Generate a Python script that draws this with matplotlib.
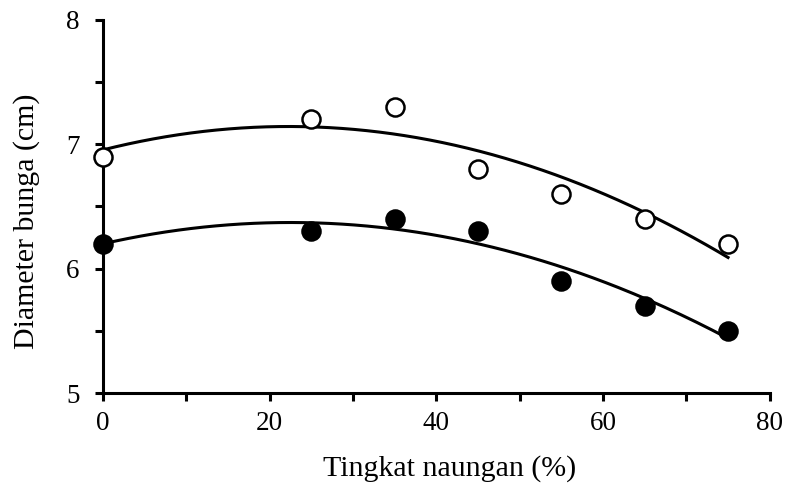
import numpy as np
import matplotlib
matplotlib.use("Agg")
import matplotlib.pyplot as plt
from matplotlib.ticker import MultipleLocator

plt.rcParams['font.family'] = ['Liberation Serif', 'DejaVu Serif']

shade = [0, 25, 35, 45, 55, 65, 75]
diam_open = [6.9, 7.2, 7.3, 6.8, 6.6, 6.4, 6.2]
diam_filled = [6.2, 6.3, 6.4, 6.3, 5.9, 5.7, 5.5]
xticks = [0, 20, 40, 60, 80]
yticks = [5, 6, 7, 8]

fig = plt.figure(figsize=(7.87, 4.84), dpi=100)
ax = fig.add_axes([0.131, 0.188, 0.847, 0.771])

xs = np.linspace(0, 75, 200)
for ys, face in [(diam_open, 'white'), (diam_filled, 'black')]:
    coef = np.polyfit(shade, ys, 2)
    ax.plot(xs, np.polyval(coef, xs), color='black', lw=2.2, zorder=2)
    ax.plot(shade, ys, linestyle='none', marker='o', ms=13, mfc=face,
            mec='black', mew=1.8, zorder=3, clip_on=False)

ax.set_xlim(0, 80)
ax.set_ylim(5, 8)
ax.set_xticks(xticks)
ax.set_yticks(yticks)
ax.xaxis.set_minor_locator(MultipleLocator(10))
ax.yaxis.set_minor_locator(MultipleLocator(0.5))
for s in ['top', 'right']:
    ax.spines[s].set_visible(False)
for s in ['left', 'bottom']:
    ax.spines[s].set_linewidth(2.2)
ax.tick_params(which='both', direction='out', width=2.2, labelsize=19.5)
ax.tick_params(axis='x', pad=7)
ax.tick_params(axis='y', pad=11)
ax.tick_params(which='major', length=6)
ax.tick_params(which='minor', length=6)
ax.set_xlabel('Tingkat naungan (%)', fontsize=21.5)
ax.set_ylabel('Diameter bunga (cm)', fontsize=21.5)
ax.xaxis.set_label_coords(0.52, -0.165)
ax.yaxis.set_label_coords(-0.095, 0.46)

fig.savefig('out.png', dpi=100)
